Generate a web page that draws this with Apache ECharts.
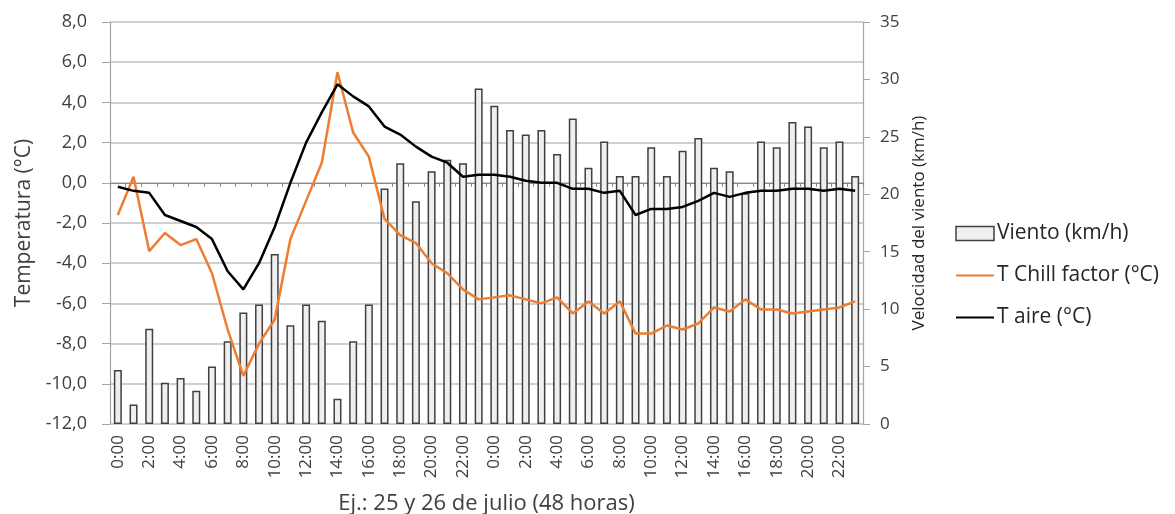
<!DOCTYPE html>
<html>
<head>
<meta charset="utf-8">
<script src="https://cdn.jsdelivr.net/npm/echarts@6/dist/echarts.min.js"></script>
<style>
  html, body { margin: 0; padding: 0; background: #fff; }
  #main { width: 1175px; height: 514px; }
</style>
</head>
<body>
<div id="main"></div>
<script>
// horas (2 días, 48 horas)
const horas = [
  '0:00','1:00','2:00','3:00','4:00','5:00','6:00','7:00','8:00','9:00','10:00','11:00',
  '12:00','13:00','14:00','15:00','16:00','17:00','18:00','19:00','20:00','21:00','22:00','23:00',
  '0:00','1:00','2:00','3:00','4:00','5:00','6:00','7:00','8:00','9:00','10:00','11:00',
  '12:00','13:00','14:00','15:00','16:00','17:00','18:00','19:00','20:00','21:00','22:00','23:00'
];
// velocidad del viento (km/h), eje derecho
const viento = [
  4.7, 1.7, 8.3, 3.6, 4.0, 2.9, 5.0, 7.2, 9.7, 10.4, 14.8, 8.6,
  10.4, 9.0, 2.2, 7.2, 10.4, 20.5, 22.7, 19.4, 22.0, 23.0, 22.7, 29.2,
  27.7, 25.6, 25.2, 25.6, 23.5, 26.6, 22.3, 24.6, 21.6, 21.6, 24.1, 21.6,
  23.8, 24.9, 22.3, 22.0, 20.1, 24.6, 24.1, 26.3, 25.9, 24.1, 24.6, 21.6
];
// sensación térmica (°C)
const tChill = [
  -1.6, 0.3, -3.4, -2.5, -3.1, -2.8, -4.5, -7.3, -9.6, -8.0, -6.8, -2.8,
  -0.9, 1.0, 5.5, 2.5, 1.3, -1.8, -2.6, -3.0, -4.0, -4.5, -5.3, -5.8,
  -5.7, -5.6, -5.8, -6.0, -5.7, -6.5, -5.9, -6.5, -5.9, -7.5, -7.5, -7.1,
  -7.3, -7.0, -6.2, -6.4, -5.8, -6.3, -6.3, -6.5, -6.4, -6.3, -6.2, -5.9
];
// temperatura del aire (°C)
const tAire = [
  -0.2, -0.4, -0.5, -1.6, -1.9, -2.2, -2.8, -4.4, -5.3, -4.0, -2.2, 0.0,
  2.0, 3.5, 4.9, 4.3, 3.8, 2.8, 2.4, 1.8, 1.3, 1.0, 0.3, 0.4,
  0.4, 0.3, 0.1, 0.0, 0.0, -0.3, -0.3, -0.5, -0.4, -1.6, -1.3, -1.3,
  -1.2, -0.9, -0.5, -0.7, -0.5, -0.4, -0.4, -0.3, -0.3, -0.4, -0.3, -0.4
];

const FONT = 'Open Sans';
const TXT = '#404040';
const chart = echarts.init(document.getElementById('main'), null, { renderer: 'canvas' });

const option = {
  animation: false,
  textStyle: { fontFamily: FONT },
  grid: { left: 110, right: 312, top: 22, bottom: 90, containLabel: false, outerBoundsMode: 'none' },
  legend: {
    orient: 'vertical',
    left: 950,
    top: 218,
    itemGap: 21,
    itemWidth: 38,
    itemHeight: 14,
    textStyle: { fontFamily: FONT, fontSize: 21, color: '#262626', padding: [0, 0, 0, -2] },
    data: [
      { name: 'Viento (km/h)', icon: 'rect', itemStyle: { color: '#efefef', borderColor: '#404040', borderWidth: 1.5 } },
      { name: 'T Chill factor (°C)', itemStyle: { opacity: 0 }, lineStyle: { width: 2 } },
      { name: 'T aire (°C)', itemStyle: { opacity: 0 }, lineStyle: { width: 2 } }
    ]
  },
  xAxis: [
    {
      type: 'category',
      data: horas,
      position: 'bottom',
      name: 'Ej.: 25 y 26 de julio (48 horas)',
      nameLocation: 'middle',
      nameGap: 69,
      nameTextStyle: { fontFamily: FONT, fontSize: 22, color: TXT },
      axisLine: { show: false },
      axisTick: { show: false },
      axisLabel: { interval: 1, rotate: 90, fontSize: 17, color: TXT, fontFamily: FONT, margin: 11 }
    },
    {
      type: 'category',
      data: horas,
      position: 'bottom',
      axisLine: { onZero: true, onZeroAxisIndex: 0, lineStyle: { color: '#888', width: 1.2 } },
      axisTick: { show: true, interval: 0, length: 4, lineStyle: { color: '#888' } },
      axisLabel: { show: false }
    }
  ],
  yAxis: [
    {
      type: 'value',
      min: -12,
      max: 8,
      interval: 2,
      name: 'Temperatura (°C)',
      nameLocation: 'middle',
      nameGap: 74,
      nameTextStyle: { fontFamily: FONT, fontSize: 21, color: TXT },
      axisLine: { show: true, lineStyle: { color: '#a6a6a6', width: 1.2 } },
      axisTick: { show: true, length: 8, lineStyle: { color: '#a6a6a6' } },
      axisLabel: {
        fontSize: 18, color: TXT, fontFamily: FONT, margin: 23,
        formatter: v => v.toFixed(1).replace('.', ',')
      },
      splitLine: { show: true, lineStyle: { color: '#bfbfbf', width: 1.5 } }
    },
    {
      type: 'value',
      min: 0,
      max: 35,
      interval: 5,
      position: 'right',
      name: 'Velocidad del viento (km/h)',
      nameLocation: 'middle',
      nameGap: 45,
      nameTextStyle: { fontFamily: FONT, fontSize: 17, color: '#262626' },
      axisLine: { show: true, lineStyle: { color: '#a6a6a6', width: 1.2 } },
      axisTick: { show: true, length: 7, lineStyle: { color: '#a6a6a6' } },
      axisLabel: { fontSize: 17, color: TXT, fontFamily: FONT, margin: 17 },
      splitLine: { show: false }
    }
  ],
  series: [
    {
      name: 'Viento (km/h)',
      type: 'bar',
      xAxisIndex: 0,
      yAxisIndex: 1,
      barWidth: 8,
      data: viento,
      itemStyle: { color: '#efefef', borderColor: '#404040', borderWidth: 1.5 }
    },
    {
      name: 'T Chill factor (°C)',
      type: 'line',
      xAxisIndex: 0,
      yAxisIndex: 0,
      data: tChill,
      symbol: 'none',
      itemStyle: { color: '#ed7d31' },
      lineStyle: { color: '#ed7d31', width: 2.5 }
    },
    {
      name: 'T aire (°C)',
      type: 'line',
      xAxisIndex: 0,
      yAxisIndex: 0,
      data: tAire,
      symbol: 'none',
      itemStyle: { color: '#000' },
      lineStyle: { color: '#000', width: 2.5 }
    }
  ]
};

chart.setOption(option);
</script>
</body>
</html>
